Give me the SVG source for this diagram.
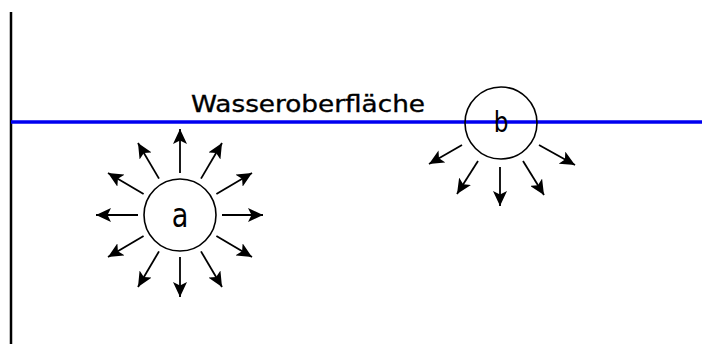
<svg xmlns="http://www.w3.org/2000/svg" width="702" height="344" viewBox="0 0 702 344">
  <style>
    .wall { stroke: #000; stroke-width: 2.5; }
    .surface { stroke: #0000f0; stroke-width: 3.5; }
    .bubble { fill: none; stroke: #000; stroke-width: 1.6; }
    .force { stroke: #000; stroke-width: 1.8; marker-end: url(#head); }
    .lbl { font-family: "DejaVu Sans", "Liberation Sans", sans-serif; fill: #000; }
  </style>
  <defs>
    <marker id="head" markerUnits="userSpaceOnUse" markerWidth="16" markerHeight="14" refX="15" refY="7" orient="auto">
      <path d="M0,0 L15,7 L0,14 L3.5,7 Z" fill="#000"/>
    </marker>
  </defs>

  <rect width="702" height="344" fill="#fff"/>

  <!-- container wall and water surface -->
  <line class="wall" x1="11" y1="12" x2="11" y2="344"/>
  <line class="surface" x1="11" y1="122" x2="702" y2="122"/>
  <text class="lbl" x="191" y="112" font-size="23" stroke="#000" stroke-width="0.35" textLength="234" lengthAdjust="spacingAndGlyphs">Wasseroberfläche</text>

  <!-- molecule inside the liquid -->
  <g id="molecule-a">
    <circle class="bubble" cx="180" cy="215" r="36"/>
    <text class="lbl" transform="translate(180 227) scale(0.8 1)" font-size="34" text-anchor="middle">a</text>
  </g>

  <!-- molecule at the surface -->
  <g id="molecule-b">
    <circle class="bubble" cx="501" cy="123" r="36"/>
    <text class="lbl" transform="translate(501 132) scale(0.8 1)" font-size="29" text-anchor="middle">b</text>
  </g>

  <g id="forces">
    <!-- forces on a: every 30 degrees -->
    <line class="force" x1="222" y1="215" x2="263" y2="215"/>
    <line class="force" x1="216.4" y1="236" x2="252" y2="257"/>
    <line class="force" x1="201" y1="251.4" x2="222" y2="287"/>
    <line class="force" x1="180" y1="257" x2="180" y2="297"/>
    <line class="force" x1="159" y1="251.4" x2="138" y2="287"/>
    <line class="force" x1="143.6" y1="236" x2="108" y2="257"/>
    <line class="force" x1="138" y1="215" x2="96" y2="215"/>
    <line class="force" x1="143.6" y1="194" x2="108" y2="173"/>
    <line class="force" x1="159" y1="178.6" x2="138" y2="143"/>
    <line class="force" x1="180" y1="173" x2="180" y2="129"/>
    <line class="force" x1="201" y1="178.6" x2="222" y2="143"/>
    <line class="force" x1="216.4" y1="194" x2="252" y2="173"/>
    <!-- forces on b: only downward -->
    <line class="force" x1="539" y1="145" x2="575" y2="165"/>
    <line class="force" x1="523" y1="161" x2="544" y2="195"/>
    <line class="force" x1="500" y1="167" x2="500" y2="206"/>
    <line class="force" x1="478" y1="161" x2="457" y2="194"/>
    <line class="force" x1="462" y1="145" x2="429" y2="164"/>
  </g>
</svg>
